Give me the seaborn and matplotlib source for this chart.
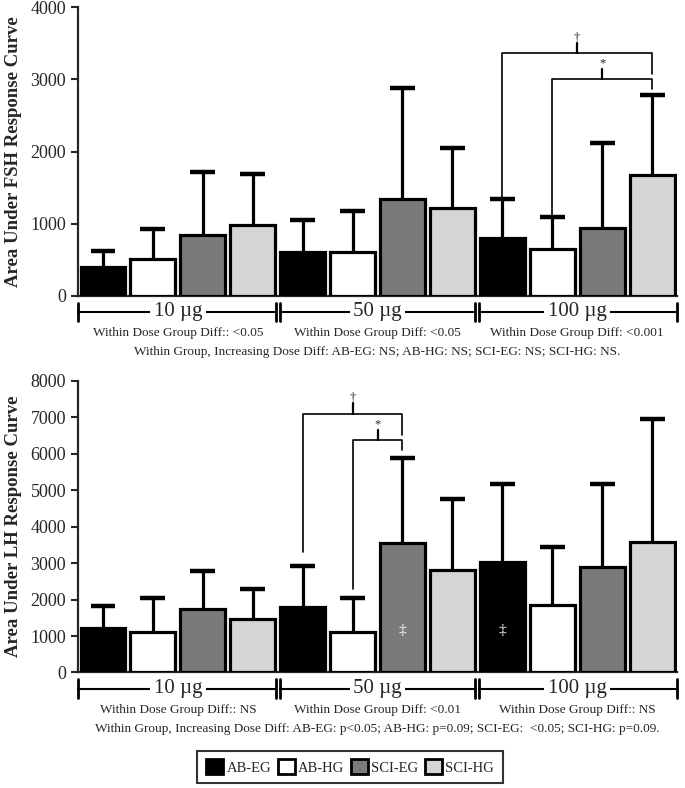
import matplotlib
matplotlib.use("Agg")
import matplotlib.pyplot as plt
import matplotlib.patches as mpatches
import numpy as np
import pandas as pd
import seaborn as sns

# ---- data ----
doses = ['10 \u00b5g', '50 \u00b5g', '100 \u00b5g']
groups = ['AB-EG', 'AB-HG', 'SCI-EG', 'SCI-HG']
colors = ['#000000', '#ffffff', '#7a7a7a', '#d5d5d5']

# bar heights and top of the (one sided) error bars, dose by dose
fsh_mean = [400, 515, 840, 980, 600, 600, 1335, 1215, 795, 645, 935, 1670]
fsh_upper = [625, 920, 1715, 1695, 1045, 1170, 2885, 2055, 1340, 1095, 2120, 2785]
lh_mean = [1230, 1110, 1735, 1475, 1800, 1110, 3550, 2805, 3035, 1860, 2880, 3570]
lh_upper = [1810, 2040, 2780, 2295, 2910, 2040, 5880, 4750, 5175, 3430, 5155, 6960]

fsh_within = ['Within Dose Group Diff:: <0.05', 'Within Dose Group Diff: <0.05',
              'Within Dose Group Diff: <0.001']
lh_within = ['Within Dose Group Diff:: NS', 'Within Dose Group Diff: <0.01',
             'Within Dose Group Diff:: NS']
fsh_trend = 'Within Group, Increasing Dose Diff: AB-EG: NS; AB-HG: NS; SCI-EG: NS; SCI-HG: NS.'
lh_trend = ('Within Group, Increasing Dose Diff: AB-EG: p<0.05; AB-HG: p=0.09; '
            'SCI-EG:  <0.05; SCI-HG: p=0.09.')

# significance brackets: left bar, right bar, bracket level, left leg end, right leg end, symbol
fsh_brackets = [(8, 11, 3360, 1370, 3070, '\u2020'), (9, 11, 3000, 1120, 2870, '*')]
lh_brackets = [(4, 6, 7100, 3290, 6520, '\u2020'), (5, 6, 6370, 2280, 6110, '*')]
lh_dd = [6, 8]          # bars carrying the white double dagger
lh_dd_level = 1150

sns.set_style("ticks")
plt.rcParams['font.family'] = ['Liberation Serif', 'DejaVu Serif']


def panel(ax, mean, upper, ymax, ylabel, within, trend, brackets):
    df = pd.DataFrame({'slot': np.arange(12), 'value': mean, 'group': groups * 3})
    xs = np.arange(12)
    # error bars (upper side only)
    ax.vlines(xs, mean, upper, color='black', lw=2.3, zorder=2)
    ax.hlines(upper, xs - 0.25, xs + 0.25, color='black', lw=3.2, zorder=2)
    sns.barplot(data=df, x='slot', y='value', hue='group', hue_order=groups,
                palette=colors, dodge=False, width=0.9, edgecolor='black',
                linewidth=2.3, legend=False, ax=ax, zorder=3)
    ax.set_xlim(-0.5, 11.5)
    ax.set_ylim(0, ymax)
    ax.set_yticks(np.arange(0, ymax + 1, 1000))
    ax.set_xticks([])
    ax.set_xlabel('')
    ax.set_ylabel(ylabel, fontsize=13.5, fontweight='bold')
    ax.yaxis.set_label_coords(-0.094, 0.5)
    ax.tick_params(axis='y', labelsize=13, length=5, width=1.5)
    for s in ['left', 'bottom']:
        ax.spines[s].set_linewidth(1.6)
    sns.despine(ax=ax)

    # dose segments under the axis
    tr = ax.get_xaxis_transform()
    ybr, h = -0.055, 0.031
    for i, d in enumerate(doses):
        x0 = 4 * i - 0.5 + (0.04 if i > 0 else 0)
        x1 = 4 * i + 3.5 - (0.04 if i < 2 else 0)
        ax.plot([x0, x1], [ybr, ybr], color='black', lw=1.5, transform=tr, clip_on=False)
        for xx in (x0, x1):
            ax.plot([xx, xx], [ybr - h, ybr + h], color='black', lw=2,
                    transform=tr, clip_on=False)
        ax.text(4 * i + 1.5, ybr, d, transform=tr, ha='center', va='center',
                fontsize=15, bbox=dict(facecolor='white', edgecolor='none', pad=2.5))
        ax.text(4 * i + 1.5, -0.128, within[i], transform=tr, ha='center',
                va='center', fontsize=9.5)
    ax.text(0.5, -0.195, trend, transform=ax.transAxes, ha='center', va='center',
            fontsize=9.5)

    # significance brackets
    for xl, xr, lev, yl, yr, sym in brackets:
        ax.plot([xl, xl, xr, xr], [yl, lev, lev, yr], color='black', lw=1.2, zorder=4)
        xm = (xl + xr) / 2
        tick = lev + 0.035 * ymax
        ax.plot([xm, xm], [lev, tick], color='black', lw=1.6, zorder=4)
        ax.text(xm, tick, sym, ha='center', va='bottom', fontsize=9)


fig = plt.figure(figsize=(6.85, 7.88), dpi=100)
ax1 = fig.add_axes([0.1139, 0.6247, 0.8745, 0.3660])
ax2 = fig.add_axes([0.1139, 0.1466, 0.8745, 0.3703])

panel(ax1, fsh_mean, fsh_upper, 4000, 'Area Under FSH Response Curve',
      fsh_within, fsh_trend, fsh_brackets)
panel(ax2, lh_mean, lh_upper, 8000, 'Area Under LH Response Curve',
      lh_within, lh_trend, lh_brackets)

for s in lh_dd:
    ax2.text(s, lh_dd_level, '\u2021', color='white', ha='center', va='center',
             fontsize=11, zorder=5)

handles = [mpatches.Patch(facecolor=c, edgecolor='black', linewidth=2, label=g)
           for g, c in zip(groups, colors)]
leg = fig.legend(handles=handles, loc='center', bbox_to_anchor=(350 / 685, 1 - 767 / 788),
                 ncol=4, fontsize=10.5, frameon=True, fancybox=False, handlelength=1.2,
                 handleheight=1.2, handletextpad=0.2, columnspacing=0.45,
                 borderpad=0.6)
leg.get_frame().set_edgecolor('black')
leg.get_frame().set_linewidth(1.5)

fig.savefig('out.png', dpi=100)
